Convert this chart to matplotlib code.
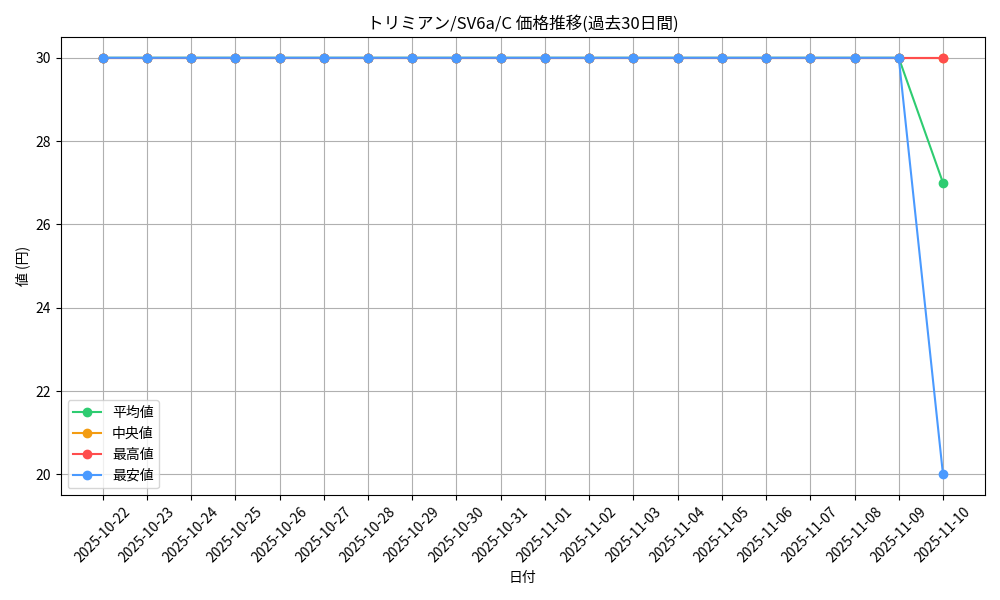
import matplotlib
matplotlib.use("Agg")
import matplotlib.pyplot as plt

plt.rcParams['font.family'] = ['Noto Sans CJK JP', 'DejaVu Sans']

dates = ["2025-10-22","2025-10-23","2025-10-24","2025-10-25","2025-10-26","2025-10-27",
         "2025-10-28","2025-10-29","2025-10-30","2025-10-31","2025-11-01","2025-11-02",
         "2025-11-03","2025-11-04","2025-11-05","2025-11-06","2025-11-07","2025-11-08",
         "2025-11-09","2025-11-10"]
mean_v = [30]*19 + [27]
median_v = [30]*19 + [30]
max_v = [30]*19 + [30]
min_v = [30]*19 + [20]

fig, ax = plt.subplots(figsize=(10, 6), dpi=100)
ax.plot(dates, mean_v, marker='o', color='#2ecc71', label='平均値')
ax.plot(dates, median_v, marker='o', color='#f39c12', label='中央値')
ax.plot(dates, max_v, marker='o', color='#ff4d4d', label='最高値')
ax.plot(dates, min_v, marker='o', color='#4a9aff', label='最安値')
ax.set_title('トリミアン/SV6a/C 価格推移(過去30日間)')
ax.set_xlabel('日付')
ax.set_ylabel('値 (円)')
ax.grid(True)
ax.legend(loc='lower left')
plt.setp(ax.get_xticklabels(), rotation=45)
fig.tight_layout()
fig.savefig('out.png')
